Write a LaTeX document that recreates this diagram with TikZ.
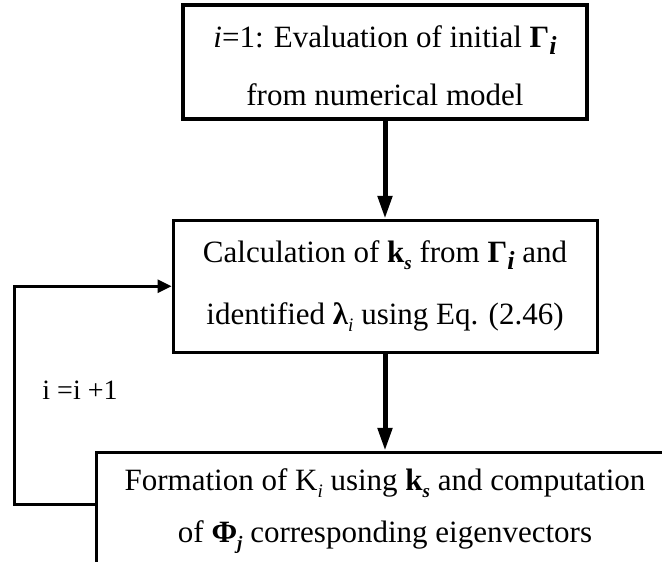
\documentclass[tikz,border=0pt]{standalone}
\usepackage{fontspec}
\setmainfont{Liberation Serif}
\usetikzlibrary{arrows.meta,positioning}
\newcommand{\lowsub}[2][19]{\raisebox{-7pt}{\fontsize{#1}{#1}\selectfont #2}}

\begin{document}
\begin{tikzpicture}[x=1pt, y=1pt,
  node distance=97pt,
  box/.style={draw, line width=3pt, align=center, inner sep=0pt,
              font=\fontsize{31}{52}\selectfont},
  arr/.style={-{Triangle[length=23pt, width=14pt]}, line width=5pt},
  back/.style={-{Triangle[length=14pt, width=13pt]}, line width=3pt}]
  \useasboundingbox (0,0) rectangle (662,-562);
  \clip (0,0) rectangle (662,-562);
  \node[box, line width=3.5pt, minimum width=404pt, minimum height=114pt] (init) at (385,-62)
    {\rule{0pt}{30pt}\textit{i}=1: Evaluation of initial \textbf{Γ}\lowsub[26]{\textbf{\textit{i}}}\\[6pt]
     from numerical model};
  \node[box, below=98pt of init, minimum width=424pt, minimum height=132pt] (calc)
    {Calculation of \textbf{k}\lowsub{\textbf{\textit{s}}} from \textbf{Γ}\lowsub[26]{\textbf{\textit{i}}} and\\[10pt]
     identified \textbf{λ}\lowsub{\textit{i}} using Eq. (2.46)};
  \node[box, below=97pt of calc, minimum width=578pt, minimum height=118pt] (form)
    {Formation of K\lowsub{\textit{i}} using \textbf{k}\lowsub{\textbf{\textit{s}}} and computation\\
     of \textbf{Φ}\lowsub{\textbf{\textit{j}}} corresponding eigenvectors};
  \draw[arr] (init) -- (calc);
  \draw[arr] (calc) -- (form);
  \coordinate (turn) at (14,-504);
  \draw[back] (form.west |- turn) -- (turn) |- (calc.west);
  \node[font=\fontsize{28}{30}\selectfont] (step) at (80,-390) {i =i +1};
\end{tikzpicture}
\end{document}
